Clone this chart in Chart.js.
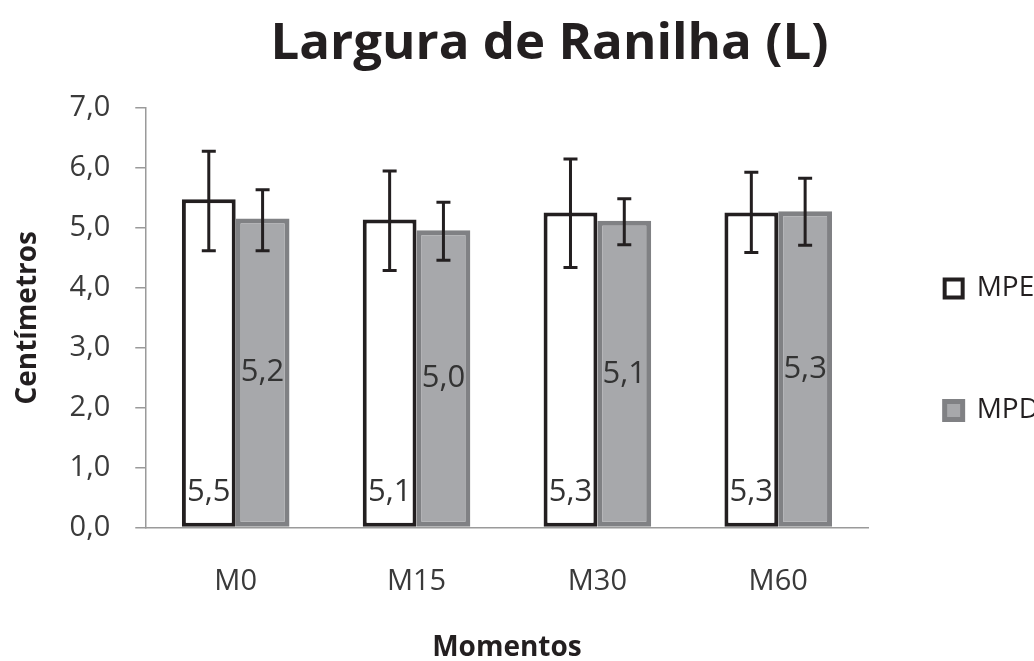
<!DOCTYPE html>
<html>
<head>
<meta charset="utf-8">
<script src="https://cdn.jsdelivr.net/npm/chart.js@4.4.1/dist/chart.umd.min.js"></script>
<style>
  html, body { margin: 0; padding: 0; background: #fff; overflow: hidden; }
  #wrap { width: 1098px; height: 661px; }
</style>
</head>
<body>
<div id="wrap"><canvas id="ranilhaChart" width="1098" height="661"></canvas></div>
<script>
const momentos = ['M0', 'M15', 'M30', 'M60'];
const mpe = [5.48, 5.14, 5.26, 5.26];
const mpd = [5.16, 4.96, 5.12, 5.28];
// limites das barras de erro
const mpeErroSup = [6.28, 5.95, 6.15, 5.93];
const mpeErroInf = [4.62, 4.29, 4.34, 4.59];
const mpdErroSup = [5.64, 5.43, 5.49, 5.83];
const mpdErroInf = [4.62, 4.46, 4.72, 4.71];
const yMin = 0;
const yMax = 7;
const yPasso = 1;

const fonte = "'Open Sans', sans-serif";
const virgula = v => v.toFixed(1).replace('.', ',');

const barrasErro = {
  id: 'barrasErro',
  afterDatasetsDraw(chart) {
    const { ctx, scales: { y } } = chart;
    const limites = [[mpeErroInf, mpeErroSup], [mpdErroInf, mpdErroSup]];
    ctx.save();
    ctx.strokeStyle = '#231f20';
    ctx.lineWidth = 3;
    chart.data.datasets.forEach((ds, i) => {
      chart.getDatasetMeta(i).data.forEach((bar, j) => {
        const yTop = y.getPixelForValue(limites[i][1][j]);
        const yBot = y.getPixelForValue(limites[i][0][j]);
        ctx.beginPath();
        ctx.moveTo(bar.x, yTop); ctx.lineTo(bar.x, yBot);
        ctx.moveTo(bar.x - 7, yTop); ctx.lineTo(bar.x + 7, yTop);
        ctx.moveTo(bar.x - 7, yBot); ctx.lineTo(bar.x + 7, yBot);
        ctx.stroke();
      });
    });
    ctx.restore();
  }
};

const rotulos = {
  id: 'rotulos',
  afterDatasetsDraw(chart) {
    const { ctx } = chart;
    ctx.save();
    ctx.font = '31px ' + fonte;
    ctx.fillStyle = '#333333';
    ctx.textAlign = 'center';
    ctx.textBaseline = 'middle';
    chart.data.datasets.forEach((ds, i) => {
      chart.getDatasetMeta(i).data.forEach((bar, j) => {
        const txt = virgula(ds.data[j]);
        // MPE: base interna; MPD: centro
        const yTxt = i === 0 ? bar.base - 34 : (bar.y + bar.base) / 2;
        ctx.fillText(txt, bar.x, yTxt);
      });
    });
    ctx.restore();
  }
};

// pequenos deslocamentos de legenda e título, como no original
const ajusteLayout = {
  id: 'ajusteLayout',
  afterLayout(chart) {
    const leg = chart.legend;
    leg.left -= 18;
    leg.right -= 18;
    leg.top += 19;
    leg.bottom += 19;
    const tit = chart.titleBlock;
    tit.left += 14;
    tit.right += 14;
  }
};

const ctx = document.getElementById('ranilhaChart').getContext('2d');

const ranilhaChart = new Chart(ctx, {
  type: 'bar',
  data: {
    labels: momentos,
    datasets: [{
      label: 'MPE',
      data: mpe,
      backgroundColor: '#ffffff',
      borderColor: '#231f20',
      borderWidth: 4,
      borderSkipped: false
    }, {
      label: 'MPD',
      data: mpd,
      backgroundColor: '#a7a8ab',
      borderColor: '#808184',
      borderWidth: 5,
      borderSkipped: false
    }]
  },
  options: {
    responsive: false,
    animation: false,
    barPercentage: 1.0,
    categoryPercentage: 0.595,
    layout: {
      padding: { left: 4, right: 31, top: 0, bottom: 0 }
    },
    plugins: {
      title: {
        display: true,
        text: 'Largura de Ranilha (L)',
        font: { family: fonte, size: 51, weight: 'bold' },
        color: '#231f20',
        padding: { top: 14, bottom: 33 }
      },
      legend: {
        position: 'right',
        labels: {
          boxWidth: 18,
          boxHeight: 18,
          padding: 94,
          color: '#231f20',
          font: { family: fonte, size: 28 }
        }
      },
      tooltip: { enabled: false }
    },
    scales: {
      y: {
        min: yMin,
        max: yMax,
        ticks: {
          stepSize: yPasso,
          color: '#3a3a3a',
          font: { family: fonte, size: 29 },
          padding: 25,
          callback: v => virgula(v)
        },
        grid: { drawOnChartArea: false, tickLength: 10, color: '#9a9a9a', lineWidth: 1.5 },
        border: { color: '#9a9a9a', width: 1.5 },
        title: {
          display: true,
          text: 'Centímetros',
          color: '#231f20',
          font: { family: fonte, size: 28, weight: 'bold' },
          padding: { top: 7, bottom: 0 }
        }
      },
      x: {
        ticks: {
          color: '#3a3a3a',
          font: { family: fonte, size: 29 },
          padding: 37
        },
        grid: { display: false, drawTicks: false },
        border: { color: '#9a9a9a', width: 1.5 },
        title: {
          display: true,
          text: 'Momentos',
          color: '#231f20',
          font: { family: fonte, size: 28, weight: 'bold', lineHeight: 0.85 },
          padding: { top: 0, bottom: 1 }
        }
      }
    }
  },
  plugins: [barrasErro, rotulos, ajusteLayout]
});
</script>
</body>
</html>
